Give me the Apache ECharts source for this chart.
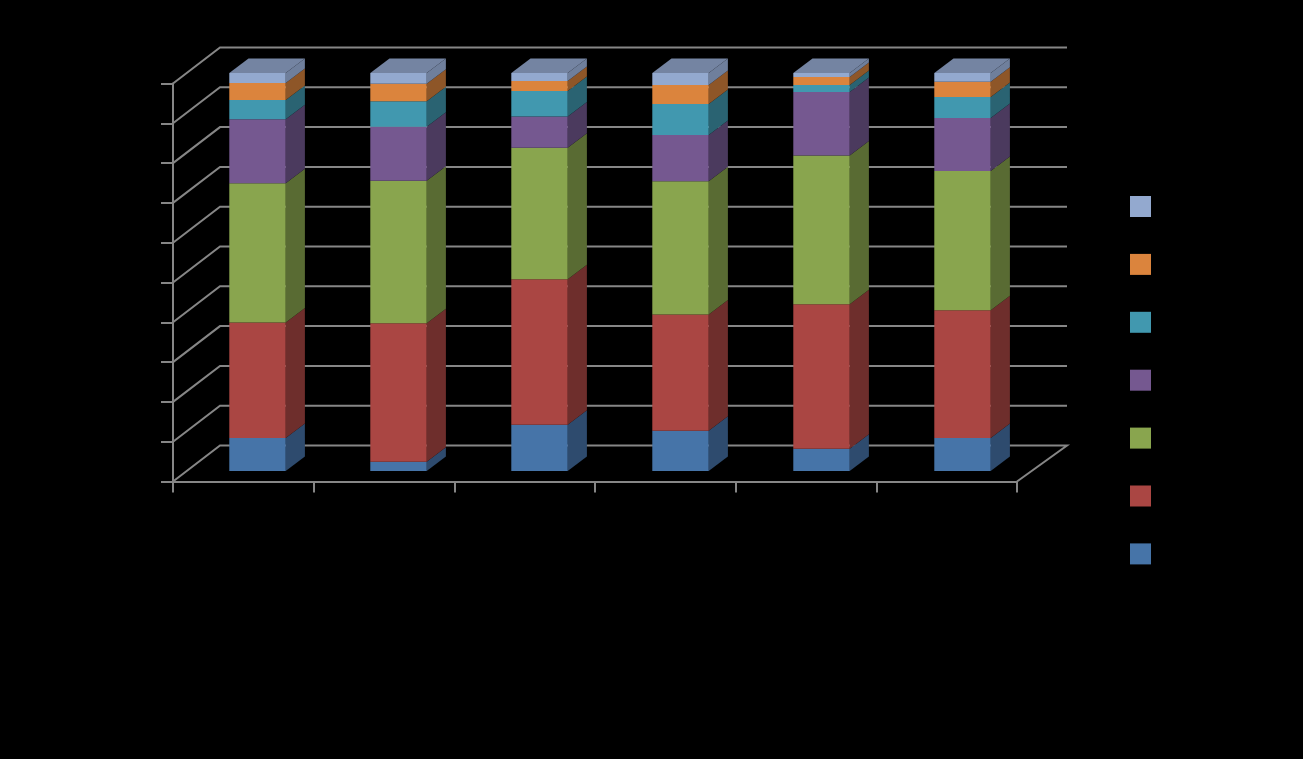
<!DOCTYPE html>
<html>
<head>
<meta charset="utf-8">
<style>html,body{margin:0;padding:0;background:#000}#c{width:1303px;height:759px}</style>
<script src="https://cdn.jsdelivr.net/npm/echarts@6/dist/echarts.min.js"></script>
</head>
<body>
<div id="c"></div>
<script>
const categories = ['1', '2', '3', '4', '5', '6'];
const yTicks = [0, 10, 20, 30, 40, 50, 60, 70, 80, 90, 100];
const series1 = [8.3, 2.3, 11.6, 10.1, 5.6, 8.3];
const series2 = [29.0, 34.8, 36.6, 29.2, 36.3, 32.1];
const series3 = [35.0, 35.8, 33.0, 33.5, 37.4, 35.0];
const series4 = [16.1, 13.6, 7.9, 11.6, 15.9, 13.3];
const series5 = [4.8, 6.4, 6.4, 7.8, 1.8, 5.3];
const series6 = [4.3, 4.4, 2.5, 4.8, 2.0, 3.8];
const series7 = [2.5, 2.7, 2.0, 3.0, 1.0, 2.2];
const seriesNames = ['Series 1', 'Series 2', 'Series 3', 'Series 4', 'Series 5', 'Series 6', 'Series 7'];
const seriesValues = [series1, series2, series3, series4, series5, series6, series7];
const frontColors = ['#4674A8', '#AA4643', '#89A54E', '#755890', '#4198AF', '#DB843D', '#93A9CF'];
const sideColors = ['#2E4B6E', '#6E2E2C', '#596B33', '#4B3A5E', '#2A6372', '#8E5628', '#6F7F9C'];
const topColor = '#7484A2';
const gridColor = '#868686';

const wallDepth = [47, -36];
const wallSkew = 3;
const barPlane = [14, -10.5];
const barSkew = 2;
const barDepth = [19.2, -14.5];
const barRatio = 0.401;

const running = categories.map(() => 0);
const stacked = seriesValues.map(vals => vals.map((v, i) => {
  const base = running[i];
  running[i] += v;
  return [i, base, running[i]];
}));

function poly(points, fill) {
  return { type: 'polygon', shape: { points }, style: { fill, stroke: null }, silent: true };
}

function barRenderer(si) {
  return function (params, api) {
    const sys = params.coordSys;
    const cat = api.value(0);
    const b = api.coord([cat, api.value(1)]);
    const t = api.coord([cat, api.value(2)]);
    const half = api.size([1, 0])[0] * barRatio / 2;
    const cx = b[0] + barPlane[0] + barSkew * (b[0] - sys.x) / sys.width;
    const x0 = cx - half, x1 = cx + half;
    const yb = b[1] + barPlane[1], yt = t[1] + barPlane[1];
    const [dx, dy] = barDepth;
    const children = [
      poly([[x1, yb], [x1 + dx, yb + dy], [x1 + dx, yt + dy], [x1, yt]], sideColors[si]),
      poly([[x0, yb], [x1, yb], [x1, yt], [x0, yt]], frontColors[si])
    ];
    if (si === seriesValues.length - 1) {
      children.push(poly([[x0, yt], [x1, yt], [x1 + dx, yt + dy], [x0 + dx, yt + dy]], topColor));
    }
    return { type: 'group', children };
  };
}

function wallRenderer(params, api) {
  const sys = params.coordSys;
  const y = api.coord([0, api.value(0)])[1];
  const xl = sys.x, xr = sys.x + sys.width;
  const [dx, dy] = wallDepth;
  const pts = [[xl, y], [xl + dx, y + dy], [xr + dx + wallSkew, y + dy]];
  if (api.value(0) === 0) pts.push([xr, y]);
  return {
    type: 'polyline', shape: { points: pts },
    style: { stroke: gridColor, lineWidth: 2, fill: null }, silent: true
  };
}

const axisLine = { show: true, lineStyle: { color: gridColor, width: 2 } };

const option = {
  backgroundColor: '#000000',
  animation: false,
  grid: { left: 173, right: 286, top: 83.5, bottom: 277.5, containLabel: false },
  xAxis: {
    type: 'category', data: categories, boundaryGap: true,
    axisLine, axisTick: { show: true, length: 11, lineStyle: { color: gridColor, width: 2 } },
    axisLabel: { show: false }, splitLine: { show: false }
  },
  yAxis: {
    type: 'value', min: 0, max: 100, interval: 10,
    axisLine, axisTick: { show: true, length: 12, lineStyle: { color: gridColor, width: 2 } },
    axisLabel: { show: false }, splitLine: { show: false }
  },
  legend: {
    orient: 'vertical', left: 1130, top: 196, padding: 0, itemWidth: 21, itemHeight: 21, itemGap: 36.9,
    icon: 'rect', selectedMode: false, formatter: () => '',
    data: seriesNames.slice().reverse()
  },
  series: [
    {
      type: 'custom', name: 'walls', coordinateSystem: 'cartesian2d', clip: false, silent: true, z: 1,
      encode: { y: 0 }, renderItem: wallRenderer, data: yTicks.map(v => [v])
    }
  ].concat(stacked.map((data, si) => ({
    type: 'custom', name: seriesNames[si], coordinateSystem: 'cartesian2d', clip: false, silent: true, z: 3,
    itemStyle: { color: frontColors[si] },
    encode: { x: 0, y: [1, 2] }, renderItem: barRenderer(si), data
  })))
};
echarts.init(document.getElementById('c'), null, { renderer: 'canvas' }).setOption(option);
</script>
</body>
</html>
